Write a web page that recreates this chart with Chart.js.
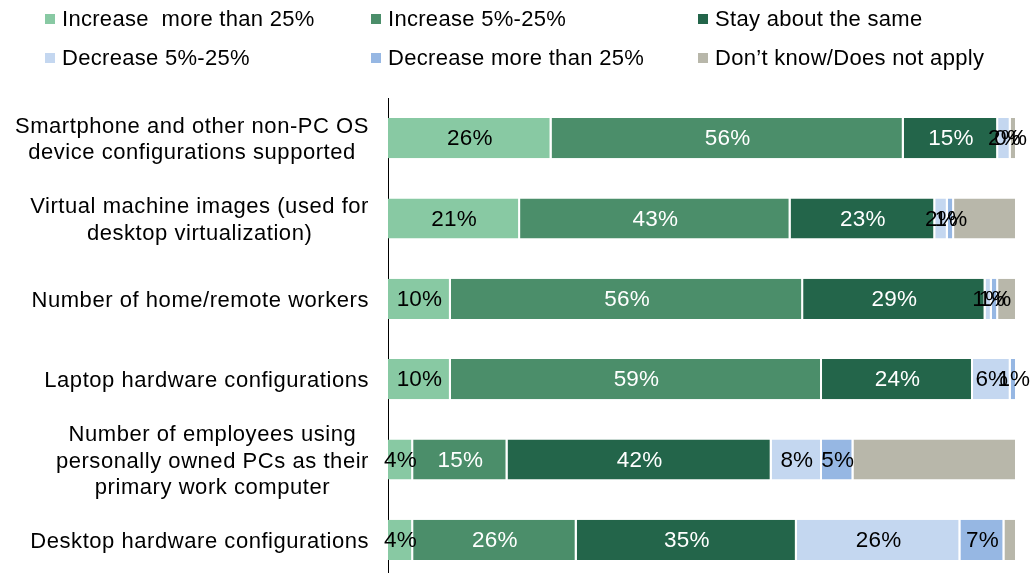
<!DOCTYPE html>
<html>
<head>
<meta charset="utf-8">
<script src="https://cdn.jsdelivr.net/npm/chart.js@4/dist/chart.umd.min.js"></script>
<style>
html,body{margin:0;padding:0;background:#fff;overflow:hidden;}
#wrap{position:absolute;left:0;top:0;width:1034px;height:590px;}
</style>
</head>
<body>
<div id="wrap"><canvas id="c" width="1034" height="590"></canvas></div>
<script>
const categories = [
  ["Smartphone and other non-PC OS", "device configurations supported"],
  ["Virtual machine images (used for", "desktop virtualization)"],
  ["Number of home/remote workers"],
  ["Laptop hardware configurations"],
  ["Number of employees using", "personally owned PCs as their", "primary work computer"],
  ["Desktop hardware configurations"]
];
const seriesNames = ["Increase  more than 25%", "Increase 5%-25%", "Stay about the same",
  "Decrease 5%-25%", "Decrease more than 25%", "Don\u2019t know/Does not apply"];
const increaseMore = [26, 21, 10, 10, 4, 4];
const increase = [56, 43, 56, 59, 15, 26];
const stay = [15, 23, 29, 24, 42, 35];
const decrease = [2, 2, 1, 6, 8, 26];
const decreaseMore = [0, 1, 1, 1, 5, 7];
const dontKnow = [1, 10, 3, 0, 26, 2];

const colors = ["#88C9A3", "#4B8E6A", "#23654A", "#C4D7F0", "#96B7E3", "#B8B7AA"];
const labelColors = ["#000", "#fff", "#fff", "#000", "#000", null];
const values = [increaseMore, increase, stay, decrease, decreaseMore, dontKnow];

const FONT = "Liberation Sans, Arial, sans-serif";

const datasets = values.map((v, i) => ({
  label: seriesNames[i],
  data: v,
  backgroundColor: colors[i],
  borderColor: "#ffffff",
  borderWidth: {top: 0, bottom: 0, left: 0, right: 2},
  borderSkipped: false,
  barPercentage: 0.5,
  categoryPercentage: 1.0
}));

const drawPlugin = {
  id: "custom",
  afterDatasetsDraw(chart) {
    const ctx = chart.ctx;
    ctx.save();
    // data labels
    ctx.font = "22.5px " + FONT;
    ctx.letterSpacing = "0.2px";
    ctx.textAlign = "center";
    ctx.textBaseline = "middle";
    chart.data.datasets.forEach((ds, di) => {
      if (!labelColors[di]) return;
      const meta = chart.getDatasetMeta(di);
      meta.data.forEach((el, i) => {
        const cx = (el.x + el.base) / 2;
        ctx.fillStyle = labelColors[di];
        ctx.fillText(ds.data[i] + "%", cx, el.y + 1);
      });
    });
    // category labels
    const y = chart.scales.y;
    ctx.fillStyle = "#000";
    ctx.font = "22px " + FONT;
    ctx.letterSpacing = "0.55px";
    categories.forEach((lines, i) => {
      const cy = y.getPixelForValue(i) + 2;
      let maxW = 0;
      lines.forEach(l => { maxW = Math.max(maxW, ctx.measureText(l).width); });
      const cx = 369 - maxW / 2;
      const lh = 26.5;
      lines.forEach((l, k) => {
        ctx.fillText(l, cx, cy + (k - (lines.length - 1) / 2) * lh);
      });
    });
    // legend
    ctx.font = "22px " + FONT;
    ctx.letterSpacing = "0.3px";
    ctx.textAlign = "left";
    const colX = [45, 371, 698];
    const rowY = [19, 58];
    chart.data.datasets.forEach((ds, di) => {
      const bx = colX[di % 3], by = rowY[Math.floor(di / 3)];
      ctx.fillStyle = ds.backgroundColor;
      ctx.fillRect(bx, by - 5, 10, 10);
      ctx.fillStyle = "#000";
      ctx.fillText(ds.label, bx + 17, by + 1);
    });
    ctx.restore();
  }
};

new Chart(document.getElementById("c"), {
  type: "bar",
  data: {labels: categories.map(c => c.join(" ")), datasets},
  options: {
    responsive: false,
    animation: false,
    indexAxis: "y",
    layout: {padding: {left: 388, right: 17, top: 98, bottom: 10}},
    plugins: {legend: {display: false}, tooltip: {enabled: false}},
    scales: {
      x: {stacked: true, min: 0, max: 100, display: false},
      y: {
        stacked: true,
        grid: {display: false, drawTicks: false},
        ticks: {display: false},
        border: {display: true, color: "#000", width: 1},
        afterFit: (s) => { s.width = 0; }
      }
    }
  },
  plugins: [drawPlugin]
});
</script>
</body>
</html>
